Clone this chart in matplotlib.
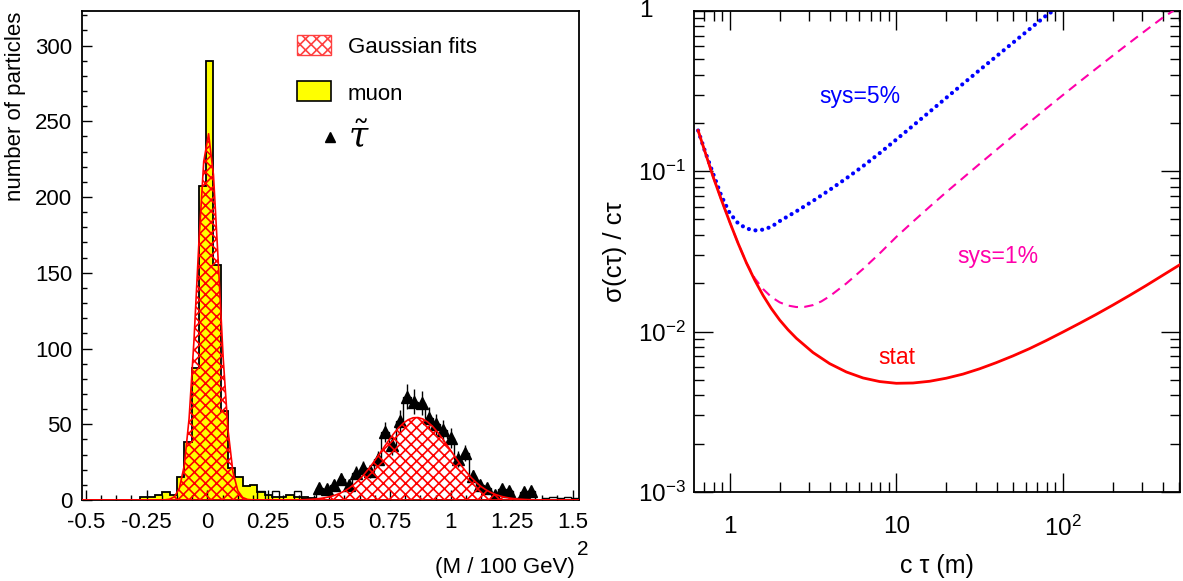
import numpy as np
import matplotlib
matplotlib.use('Agg')
import matplotlib.pyplot as plt
from matplotlib.patches import Rectangle
from matplotlib.lines import Line2D
from matplotlib.ticker import MultipleLocator, FixedLocator, FixedFormatter, NullFormatter

plt.rcParams['font.family'] = ['Liberation Sans', 'DejaVu Sans']
plt.rcParams['mathtext.fontset'] = 'custom'
plt.rcParams['mathtext.rm'] = 'Liberation Sans'
plt.rcParams['mathtext.it'] = 'Liberation Sans:italic'
plt.rcParams['hatch.linewidth'] = 1.2

# ---------------- data: left panel ----------------
hist_lo, hist_hi, n_bins = -0.515, 1.525, 68
muon_counts = [0, 0, 0, 0, 0, 0, 0, 0, 2, 2,
               3, 5, 3, 15, 38, 87, 207, 290, 155, 59,
               21, 15, 9, 10, 5, 3, 2, 2, 3, 2,
               2, 1, 0, 0, 0, 0, 0, 0, 0, 0,
               0, 0, 0, 0, 0, 0, 0, 0, 0, 0,
               0, 0, 0, 0, 0, 0, 0, 0, 0, 0,
               0, 0, 0, 0, 0, 0, 0, 0]
tau_counts = [0, 0, 0, 0, 0, 0, 0, 0, 0, 0,
              0, 0, 0, 0, 0, 0, 0, 0, 0, 0,
              0, 0, 0, 0, 6, 0, 6, 0, 0, 6,
              1, 1, 8, 7, 10, 14, 10, 18, 21, 19,
              27, 45, 36, 52, 68, 65, 64, 54, 50, 46,
              41, 27, 31, 16, 10, 8, 3, 7, 6, 1,
              5, 6, 0, 1, 2, 1, 2, 1]
tau_marker_range = (0.44, 1.35)
muon_fit = {'amp': 242.0, 'mean': 0.003, 'sigma': 0.045}
tau_fit = {'amp': 54.5, 'mean': 0.858, 'sigma': 0.14}
x_ticks_left = [-0.5, -0.25, 0, 0.25, 0.5, 0.75, 1, 1.25, 1.5]
x_ticklabels_left = ['-0.5', '-0.25', '0', '0.25', '0.5', '0.75', '1', '1.25', '1.5']

# ---------------- data: right panel ----------------
ctau_stat = [0.6457, 0.7079, 0.7943, 0.8913, 1.0, 1.122, 1.259, 1.413, 1.585,
             1.778, 1.995, 2.239, 2.512, 3.162, 3.981, 5.012, 6.310, 7.943, 10.0,
             12.59, 15.85, 19.95, 25.12, 31.62, 39.81, 50.12, 63.10, 79.43, 100.0,
             125.9, 158.5, 199.5, 251.2, 316.2, 398.1, 504.7]
rel_stat = [0.1791, 0.1334, 0.0923, 0.0661, 0.0481, 0.0355, 0.0268, 0.0209, 0.0168,
            0.0139, 0.0118, 0.01026, 0.00908, 0.00740, 0.00631, 0.00560, 0.00514,
            0.00488, 0.00476, 0.00478, 0.00490, 0.00512, 0.00543, 0.00586, 0.00640,
            0.00705, 0.00783, 0.00879, 0.00993, 0.01125, 0.01279, 0.01462, 0.01679,
            0.01936, 0.02244, 0.02612]
ctau_sys1 = [0.6457, 0.7079, 0.7943, 0.8913, 1.0, 1.122, 1.259, 1.413, 1.585,
             1.778, 1.995, 2.239, 2.512, 2.818, 3.162, 3.548, 3.981, 5.012, 6.310,
             7.943, 10.0, 12.59, 15.85, 19.95, 25.12, 31.62, 39.81, 50.12, 63.10,
             79.43, 100.0, 125.9, 158.5, 199.5, 251.2, 316.2, 398.1, 461.3]
rel_sys1 = [0.1791, 0.1334, 0.0923, 0.0661, 0.0481, 0.0355, 0.0268, 0.02148,
            0.01841, 0.01641, 0.01521, 0.01452, 0.01422, 0.01426, 0.01462, 0.01542,
            0.01660, 0.01995, 0.02455, 0.03069, 0.03890, 0.04842, 0.05998, 0.07396,
            0.09057, 0.1109, 0.1355, 0.1656, 0.2018, 0.2455, 0.2979, 0.3606, 0.4355,
            0.5248, 0.6310, 0.7568, 0.9057, 1.0]
ctau_sys5 = [0.6457, 0.7079, 0.7943, 0.8913, 1.0, 1.122, 1.259, 1.413, 1.585,
             1.778, 1.995, 2.512, 3.162, 3.981, 5.012, 6.310, 7.943, 10.0, 12.59,
             15.85, 19.95, 25.12, 31.62, 39.81, 50.12, 63.10, 79.43, 87.7]
rel_sys5 = [0.1791, 0.1343, 0.0966, 0.0700, 0.0547, 0.0473, 0.0439, 0.0427, 0.0432,
            0.0450, 0.0488, 0.0562, 0.0652, 0.0764, 0.0902, 0.1074, 0.1294, 0.1574,
            0.1919, 0.2344, 0.2864, 0.3499, 0.4266, 0.5188, 0.6310, 0.7674, 0.9333,
            1.0]

W, H = 1183, 581


def fx(px):
    return px / W


def fy(py):
    return 1 - py / H


fig = plt.figure(figsize=(W / 100, H / 100), dpi=100)
axL = fig.add_axes([fx(82), fy(500), fx(578.6) - fx(82), fy(10.7) - fy(500)])
axR = fig.add_axes([fx(694), fy(492), fx(1180) - fx(694), fy(10.7) - fy(492)])

# ---------------- left panel ----------------
edges = np.linspace(hist_lo, hist_hi, n_bins + 1)
centers = 0.5 * (edges[1:] + edges[:-1])
muon = np.array(muon_counts, float)
tau = np.array(tau_counts, float)

axL.stairs(muon, edges, fill=True, color='#ffff00', linewidth=0, zorder=1)
axL.stairs(muon, edges, color='black', linewidth=1.3, zorder=2)
axL.stairs(tau, edges, color='black', linewidth=1.0, zorder=2)

m = (centers > tau_marker_range[0]) & (centers < tau_marker_range[1]) & (tau > 2)
axL.errorbar(centers[m], tau[m], yerr=np.sqrt(tau[m]), fmt='^', color='black',
             ms=8.5, elinewidth=1.0, capsize=0, zorder=3)

xf = np.linspace(hist_lo, hist_hi, 103)
for fit in (muon_fit, tau_fit):
    g = fit['amp'] * np.exp(-0.5 * ((xf - fit['mean']) / fit['sigma']) ** 2)
    axL.fill_between(xf, 0, g, facecolor='none', edgecolor='#ff0000', hatch='xxx',
                     linewidth=0, zorder=4)
    axL.plot(xf, g, color='#ff0000', lw=1.2, zorder=5)

axL.set_xlim(hist_lo, hist_hi)
axL.set_ylim(0, 323)
axL.xaxis.set_major_locator(FixedLocator(x_ticks_left))
axL.xaxis.set_major_formatter(FixedFormatter(x_ticklabels_left))
axL.xaxis.set_minor_locator(MultipleLocator(0.0625))
axL.yaxis.set_major_locator(MultipleLocator(50))
axL.yaxis.set_minor_locator(MultipleLocator(10))
axL.tick_params(which='both', direction='in', top=False, right=False,
                labelsize=16, width=1.0)
axL.tick_params(which='major', length=7.2)
axL.tick_params(which='minor', length=3.6)
axL.tick_params(axis='y', pad=7)
axL.tick_params(axis='x', pad=9)
for s in axL.spines.values():
    s.set_linewidth(1.3)

# legend (drawn manually, ROOT style)
fig.add_artist(Rectangle((fx(296.5), fy(55)), fx(330.6) - fx(296.5), fy(35) - fy(55),
                         transform=fig.transFigure, facecolor='white',
                         edgecolor='#ff4040', hatch='xxx', lw=1.0))
fig.add_artist(Rectangle((fx(296.5), fy(101)), fx(330.6) - fx(296.5), fy(81) - fy(101),
                         transform=fig.transFigure, facecolor='#ffff00',
                         edgecolor='black', lw=1.2))
fig.add_artist(Line2D([fx(330)], [fy(137)], marker='^', color='black', ms=6.5,
                      transform=fig.transFigure))
fig.text(fx(348), fy(53), 'Gaussian fits', fontsize=16, va='baseline', ha='left')
fig.text(fx(348), fy(100), 'muon', fontsize=16, va='baseline', ha='left')
fig.text(fx(348), fy(147), r'$\tilde{\tau}$', fontsize=25, va='baseline', ha='left',
         math_fontfamily='dejavuserif')

fig.text(fx(16), fy(12), 'number of particles', rotation=90, fontsize=16,
         ha='center', va='top')
fig.text(fx(575), fy(573), '(M / 100 GeV)', fontsize=16, ha='right', va='baseline')
fig.text(fx(577), fy(555), '2', fontsize=15, ha='left', va='baseline')

# ---------------- right panel ----------------
axR.set_xscale('log')
axR.set_yscale('log')
axR.plot(ctau_sys5, rel_sys5, color='#0000ff', lw=3.0, linestyle=(0, (0.01, 1.6)),
         dash_capstyle='round', zorder=2)
axR.plot(ctau_sys1, rel_sys1, color='#ff00aa', lw=1.5, linestyle=(0, (4.5, 3)), zorder=3)
axR.plot(ctau_stat, rel_stat, color='#ff0000', lw=2.0, zorder=4)

axR.set_xlim(0.61, 505)
axR.set_ylim(1e-3, 1)
axR.xaxis.set_major_locator(FixedLocator([1, 10, 100]))
axR.xaxis.set_major_formatter(FixedFormatter(['1', '10', r'$10^{2}$']))
axR.xaxis.set_minor_locator(FixedLocator([d * k for d in (0.1, 1, 10, 100)
                                          for k in range(2, 10)]))
axR.xaxis.set_minor_formatter(NullFormatter())
axR.yaxis.set_major_locator(FixedLocator([1e-3, 1e-2, 1e-1, 1]))
axR.yaxis.set_major_formatter(FixedFormatter([r'$10^{-3}$', r'$10^{-2}$',
                                              r'$10^{-1}$', '']))
axR.yaxis.set_minor_locator(FixedLocator([d * k for d in (1e-3, 1e-2, 1e-1)
                                          for k in range(2, 10)]))
axR.yaxis.set_minor_formatter(NullFormatter())
axR.tick_params(which='both', direction='in', top=True, right=True,
                labelsize=17.5, width=1.0)
axR.tick_params(which='major', length=13.5)
axR.tick_params(which='minor', length=7)
axR.tick_params(axis='y', pad=6)
axR.tick_params(axis='x', pad=17)
for s in axR.spines.values():
    s.set_linewidth(1.3)

fig.text(fx(646), fy(10.7), '1', fontsize=17.5, ha='center', va='center')
fig.text(fx(615), (fy(10.7) + fy(492)) / 2, r'σ(cτ) / cτ', rotation=90,
         fontsize=18.5, ha='center', va='center')
fig.text((fx(694) + fx(1180)) / 2, fy(573), 'c τ (m)', fontsize=18,
         ha='center', va='baseline')
fig.text(fx(860), fy(97), 'sys=5%', color='#0000ff', fontsize=16.5,
         ha='center', va='center')
fig.text(fx(998), fy(257), 'sys=1%', color='#ff00aa', fontsize=16.5,
         ha='center', va='center')
fig.text(fx(897), fy(357), 'stat', color='#ff0000', fontsize=16.5,
         ha='center', va='center')

fig.savefig('out.png', dpi=100)
